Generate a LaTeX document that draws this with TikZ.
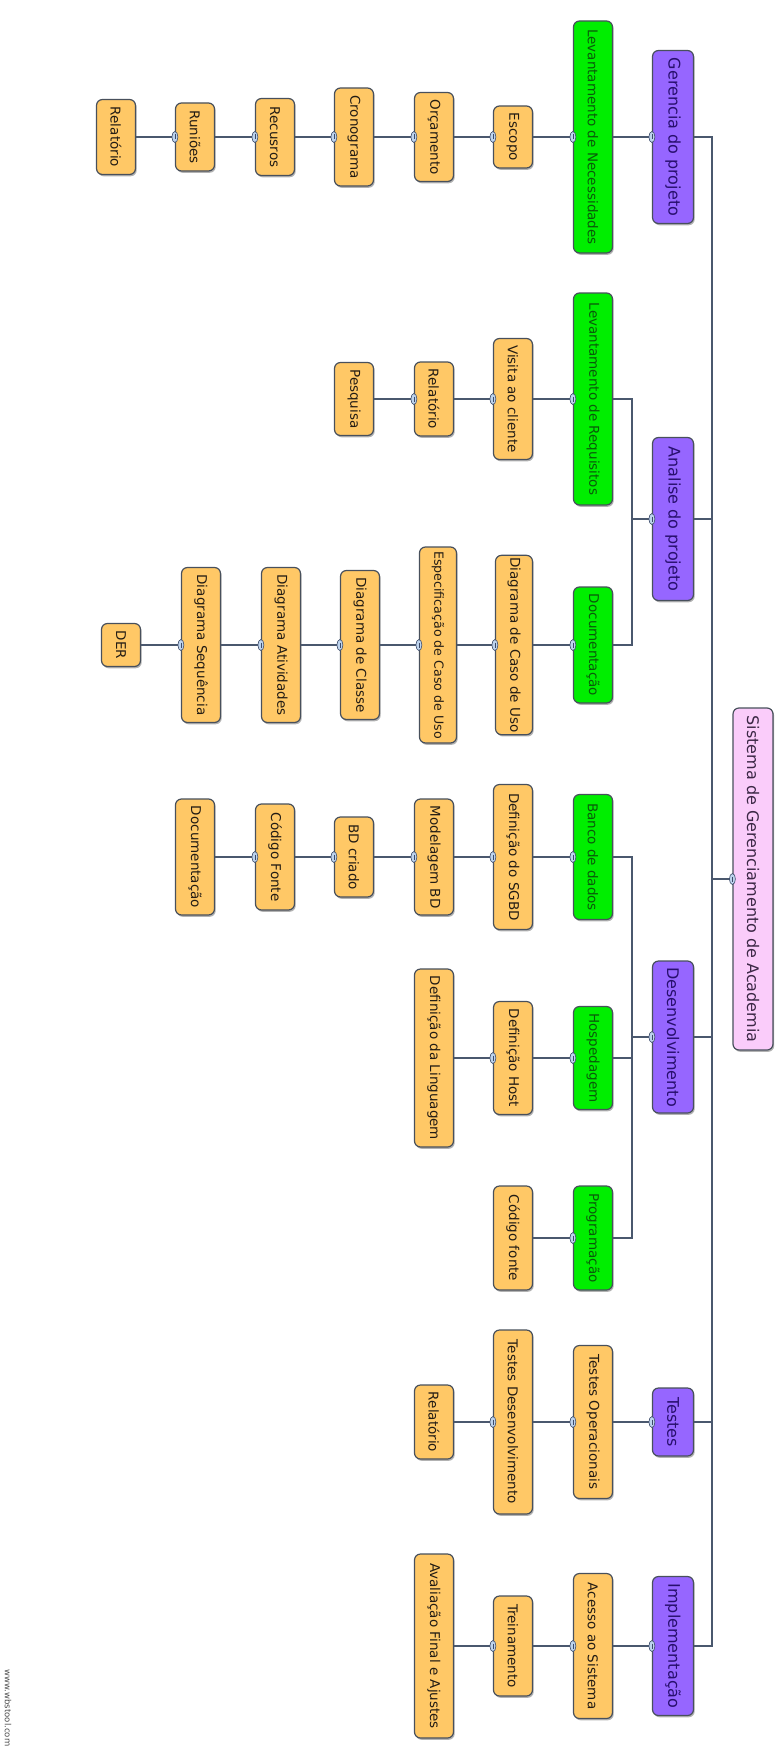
\documentclass[tikz,border=0pt]{standalone}
\usepackage{fontspec}
\setmainfont{DejaVu Sans}
\usetikzlibrary{shadows,shapes.geometric}
\definecolor{purplefill}{RGB}{150,102,255}
\definecolor{purpletext}{RGB}{40,15,110}
\definecolor{greenfill}{RGB}{0,238,0}
\definecolor{greentext}{RGB}{10,90,10}
\definecolor{orangefill}{RGB}{255,200,102}
\definecolor{orangetext}{RGB}{35,28,20}
\definecolor{pinkfill}{RGB}{250,204,250}
\definecolor{pinktext}{RGB}{60,40,70}
\definecolor{boxline}{RGB}{72,80,92}
\definecolor{linecol}{RGB}{74,88,110}
\definecolor{knobfill}{RGB}{190,212,238}
\definecolor{knobline}{RGB}{60,75,105}
\tikzset{
  box/.style={rotate=-90, rounded corners=6pt, draw=boxline, line width=1.2pt,
    minimum height=39pt, inner xsep=2pt, inner ysep=0pt,
    font=\fontsize{13.5}{15}\selectfont,
    drop shadow={shadow xshift=1.2pt, shadow yshift=-1.8pt, opacity=0.3, fill=black}},
  rootbox/.style={box, minimum height=40pt, fill=pinkfill, text=pinktext, font=\fontsize{16}{18}\selectfont},
  phase/.style={box, minimum height=41pt, fill=purplefill, text=purpletext, font=\fontsize{16}{18}\selectfont},
  grp/.style={box, fill=greenfill, text=greentext},
  task/.style={box, fill=orangefill, text=orangetext},
  conn/.style={draw=linecol, line width=1.7pt},
  knob/.style={ellipse, draw=knobline, fill=knobfill, line width=0.6pt,
    minimum width=6pt, minimum height=11pt, inner sep=0pt,
    path picture={\draw[knobline, line width=0.5pt] ([yshift=-3pt]path picture bounding box.north) -- ([yshift=3pt]path picture bounding box.south);}}
}
\begin{document}
\begin{tikzpicture}[x=1pt, y=-1pt]
\fill[white] (0,0) rectangle (779,1758);
\useasboundingbox (0,0) rectangle (779,1758);

% root
\node[rootbox, minimum width=342pt] (root) at (753,879) {Sistema de Gerenciamento de Academia};

% phases
\node[phase, minimum width=173pt] (gp) at (673,137) {Gerencia do projeto};
\node[phase, minimum width=163pt] (an) at (673,519) {Analise do projeto};
\node[phase, minimum width=152pt] (dev) at (673,1037) {Desenvolvimento};
\node[phase, minimum width=68pt] (tes) at (673,1422) {Testes};
\node[phase, minimum width=139pt] (imp) at (673,1646) {Implementação};

% Gerencia row
\node[grp, minimum width=232pt] (ln) at (593,137) {Levantamento de Necessidades};
\node[task, minimum width=62pt] (esc) at (513,137) {Escopo};
\node[task, minimum width=89pt] (orc) at (434,137) {Orçamento};
\node[task, minimum width=98pt] (cro) at (354,137) {Cronograma};
\node[task, minimum width=77pt] (rec) at (275,137) {Recusros};
\node[task, minimum width=68pt] (run) at (195,137) {Runiões};
\node[task, minimum width=75pt] (relA) at (116,137) {Relatório};

% Analise rows
\node[grp, minimum width=212pt] (lr) at (593,399) {Levantamento de Requisitos};
\node[task, minimum width=121pt] (vis) at (513,399) {Visita ao cliente};
\node[task, minimum width=74pt] (relB) at (434,399) {Relatório};
\node[task, minimum width=73pt] (pes) at (354,399) {Pesquisa};

\node[grp, minimum width=116pt] (doc) at (593,645) {Documentação};
\node[task, minimum width=176pt, minimum height=37pt] (dcu) at (514,645) {Diagrama de Caso de Uso};
\node[task, minimum width=196pt, minimum height=37pt, font=\fontsize{12.6}{14}\selectfont] (ecu) at (438,645) {Especificação de Caso de Uso};
\node[task, minimum width=149pt] (dcl) at (360,645) {Diagrama de Classe};
\node[task, minimum width=155pt] (dat) at (281,645) {Diagrama Atividades};
\node[task, minimum width=155pt] (dsq) at (201,645) {Diagrama Sequência};
\node[task, minimum width=43pt] (der) at (121,645) {DER};

% Desenvolvimento rows
\node[grp, minimum width=125pt] (bd) at (593,857) {Banco de dados};
\node[task, minimum width=145pt] (sgbd) at (513,857) {Definição do SGBD};
\node[task, minimum width=116pt] (mod) at (434,857) {Modelagem BD};
\node[task, minimum width=80pt] (bdc) at (354,857) {BD criado};
\node[task, minimum width=106pt] (cfA) at (275,857) {Código Fonte};
\node[task, minimum width=116pt] (docB) at (195,857) {Documentação};

\node[grp, minimum width=103pt] (hos) at (593,1058) {Hospedagem};
\node[task, minimum width=113pt] (dh) at (513,1058) {Definição Host};
\node[task, minimum width=178pt] (dl) at (434,1058) {Definição da Linguagem};

\node[grp, minimum width=104pt] (prog) at (593,1238) {Programação};
\node[task, minimum width=104pt] (cfB) at (513,1238) {Código fonte};

% Testes row
\node[task, minimum width=153pt] (to) at (593,1422) {Testes Operacionais};
\node[task, minimum width=184pt] (td) at (513,1422) {Testes Desenvolvimento};
\node[task, minimum width=74pt] (relC) at (434,1422) {Relatório};

% Implementacao row
\node[task, minimum width=145pt] (ac) at (593,1646) {Acesso ao Sistema};
\node[task, minimum width=100pt] (tr) at (513,1646) {Treinamento};
\node[task, minimum width=184pt] (av) at (434,1646) {Avaliação Final e Ajustes};

% watermark
\node[rotate=-90, font=\fontsize{8.5}{10}\selectfont, text=black!70] (wm) at (8,1708) {www.wbstool.com};

% connectors
\coordinate (trunk) at (712,879);
\draw[conn] (root.south) -- (trunk);
\foreach \p in {gp,an,dev,tes,imp} \draw[conn] (trunk) |- (\p.north);

\coordinate (anb) at (632,519);
\draw[conn] (an.south) -- (anb);
\draw[conn] (anb) |- (lr.north);
\draw[conn] (anb) |- (doc.north);

\coordinate (devb) at (632,1037);
\draw[conn] (dev.south) -- (devb);
\draw[conn] (devb) |- (bd.north);
\draw[conn] (devb) |- (hos.north);
\draw[conn] (devb) |- (prog.north);

\foreach \a/\b in {gp/ln, ln/esc, esc/orc, orc/cro, cro/rec, rec/run, run/relA,
  lr/vis, vis/relB, relB/pes,
  doc/dcu, dcu/ecu, ecu/dcl, dcl/dat, dat/dsq, dsq/der,
  bd/sgbd, sgbd/mod, mod/bdc, bdc/cfA, cfA/docB,
  hos/dh, dh/dl, prog/cfB,
  tes/to, to/td, td/relC,
  imp/ac, ac/tr, tr/av}
  \draw[conn] (\a.south) -- (\b.north);

% knobs
\foreach \n in {root,gp,an,dev,tes,imp,ln,esc,orc,cro,rec,run,lr,vis,relB,doc,dcu,ecu,dcl,dat,dsq,
  bd,sgbd,mod,bdc,cfA,hos,dh,prog,to,td,ac,tr}
  \node[knob] (k-\n) at (\n.south) {};
\end{tikzpicture}
\end{document}
